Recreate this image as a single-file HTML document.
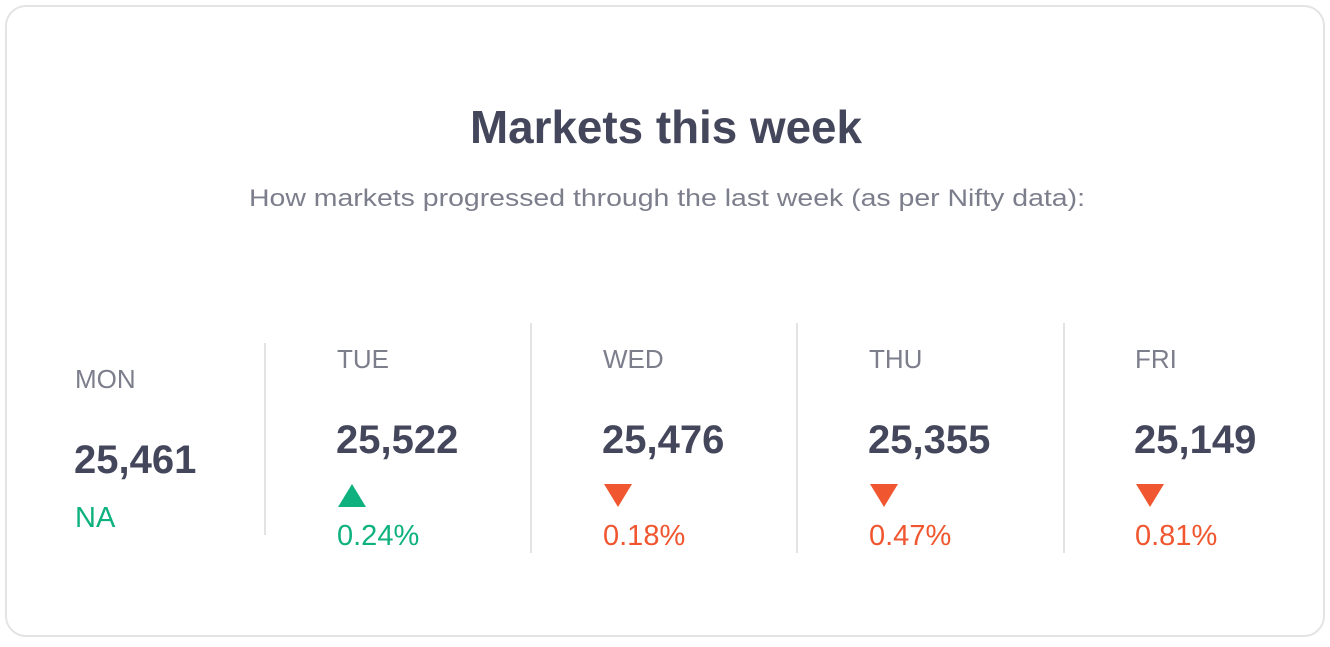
<!DOCTYPE html>
<html><head><meta charset="utf-8"><style>
html,body{margin:0;padding:0;background:#fff;}
body{width:1330px;height:642px;overflow:hidden;font-family:"Liberation Sans",sans-serif;}
</style></head><body>
<svg id="chart" width="1330" height="642" viewBox="0 0 1330 642" xmlns="http://www.w3.org/2000/svg" font-family="Liberation Sans, sans-serif">
<rect x="6" y="6" width="1318" height="630" rx="20" fill="#fff" stroke="#e4e4e6" stroke-width="2"/>
<text x="666" y="143" text-anchor="middle" font-size="46" font-weight="bold" fill="#44475b" textLength="392" lengthAdjust="spacingAndGlyphs">Markets this week</text>
<text x="667" y="206" text-anchor="middle" font-size="24" fill="#7c7e8c" textLength="836" lengthAdjust="spacingAndGlyphs">How markets progressed through the last week (as per Nifty data):</text>
<g id="cols"></g>
</svg>
<script>
const days = ["MON","TUE","WED","THU","FRI"];
const values = [25461, 25522, 25476, 25355, 25149];
const changes = [null, 0.24, 0.18, 0.47, 0.81];
const ns="http://www.w3.org/2000/svg";
const g=document.getElementById('cols');
const colX=[75,337,603,869,1135];
const divX=[265,531,797,1064];
function mk(tag,attrs,txt){const e=document.createElementNS(ns,tag);for(const k in attrs)e.setAttribute(k,attrs[k]);if(txt!=null)e.textContent=txt;g.appendChild(e);return e;}
days.forEach((d,i)=>{
  const first=changes[i]===null;
  const off=first?20:0;
  const x=colX[i];
  let t=mk('text',{x:x,y:368+off,'font-size':26,fill:'#7c7e8c'},d);
  
  
  t=mk('text',{x:x-1,y:453+off,'font-size':40,'font-weight':'bold',fill:'#44475b'},values[i].toLocaleString('en-US'));
  
  
  if(first){
    t=mk('text',{x:x,y:527,'font-size':29,fill:'#0fb27f'},'NA');
    
    
  } else {
    const up=i>0 && values[i]>values[i-1];
    const col=up?'#0fb27f':'#f0562f';
    const pts=up?`${x+1},507 ${x+29},507 ${x+15},484`:`${x+1},484 ${x+29},484 ${x+15},507`;
    const a=mk('polygon',{points:pts,fill:col});
    
    
    t=mk('text',{x:x,y:545,'font-size':29,fill:col},changes[i].toFixed(2)+'%');
    
    
  }
});
divX.forEach((x,i)=>{
  const l=mk('line',{x1:x,x2:x,y1:i===0?343:323,y2:i===0?535:553,stroke:'#e3e3e5','stroke-width':2});
  
  
});
</script>
</body></html>
